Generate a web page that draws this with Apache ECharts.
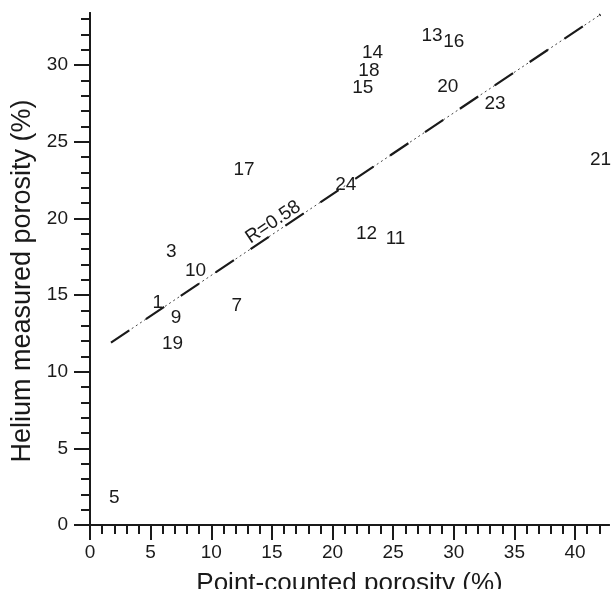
<!DOCTYPE html>
<html style="height: 100%">
<head>
   <meta charset="utf-8">
</head>
<style>
    body, html, #chart {
        margin: 0;
        width: 100%;
        height: 100%;
        background: #fff;
    }
</style>
<title>Helium vs point-counted porosity</title>
<script src="https://cdn.jsdelivr.net/npm/echarts@6/dist/echarts.min.js"></script>
<body>
   <div id="chart"></div>
   <script type="text/javascript">
    // sample numbers and their two porosity values (%)
    var sampleIds      = ['5', '19', '9', '1', '3', '10', '7', '17', '24', '12', '11', '14', '18', '15', '13', '16', '20', '23', '21'];
    var pointCounted   = [2.0, 6.8, 7.1, 5.6, 6.7, 8.7, 12.1, 12.7, 21.1, 22.8, 25.2, 23.3, 23.0, 22.5, 28.2, 30.0, 29.5, 33.4, 42.1];
    var heliumMeasured = [1.8, 11.8, 13.5, 14.5, 17.8, 16.6, 14.3, 23.2, 22.2, 19.0, 18.7, 30.8, 29.6, 28.5, 31.9, 31.5, 28.6, 27.5, 23.8];

    // regression line ends and its label
    var fitX = [1.73, 42.1];
    var fitY = [11.9, 33.3];
    var fitLabel = 'R=0.58';
    var fitLabelAt = [15.1, 19.75];

    // tick values
    var xMajor = [0, 5, 10, 15, 20, 25, 30, 35, 40];
    var xMinor = [0,1,2,3,4,5,6,7,8,9,10,11,12,13,14,15,16,17,18,19,20,21,22,23,24,25,26,27,28,29,30,31,32,33,34,35,36,37,38,39,40,41,42];
    var yMajor = [0, 5, 10, 15, 20, 25, 30];
    var yMinor = [0,1,2,3,4,5,6,7,8,9,10,11,12,13,14,15,16,17,18,19,20,21,22,23,24,25,26,27,28,29,30,31,32,33];

    var font = "'Liberation Sans', Arial, sans-serif";
    var ink = '#1a1a1a';

    var points = sampleIds.map(function (id, i) {
        return { name: id, value: [pointCounted[i], heliumMeasured[i]] };
    });
    var fitData = fitX.map(function (x, i) { return [x, fitY[i]]; });

    function axis(extra) {
        var base = {
            type: 'value',
            min: 0,
            splitLine: { show: false },
            axisLine: { show: true, lineStyle: { color: ink, width: 2 } },
            axisTick: { show: true, lineStyle: { color: ink, width: 2 } },
            axisLabel: { show: false }
        };
        return Object.assign(base, extra);
    }

    function textMarks(rotate) {
        return {
            symbolSize: 1,
            itemStyle: { color: 'transparent', opacity: 1 },
            label: {
                show: true,
                position: 'inside',
                formatter: '{b}',
                rotate: rotate,
                opacity: 1,
                textBorderWidth: 0,
                fontFamily: font,
                fontSize: 19,
                color: ink
            }
        };
    }

    var chart = echarts.init(document.getElementById('chart'));
    var option = {
        animation: false,
        grid: { left: 90, right: 2, top: 13, bottom: 64, containLabel: false, outerBoundsMode: 'none' },
        xAxis: [
            axis({
                position: 'bottom', max: 42.8,
                name: 'Point-counted porosity (%)', nameLocation: 'middle', nameGap: 46,
                nameTextStyle: { fontFamily: font, fontSize: 26, color: ink },
                axisTick: { show: true, length: 15, customValues: xMajor, lineStyle: { color: ink, width: 2 } },
                axisLabel: { show: true, customValues: xMajor, margin: 18, fontFamily: font, fontSize: 19, color: ink }
            }),
            axis({
                position: 'bottom', max: 42.8,
                axisTick: { show: true, length: 9, customValues: xMinor, lineStyle: { color: ink, width: 2 } }
            })
        ],
        yAxis: [
            axis({
                position: 'left', max: 33.4,
                name: 'Helium measured porosity (%)', nameLocation: 'middle', nameGap: 46,
                nameTextStyle: { fontFamily: font, fontSize: 27, color: ink, padding: [0, 24, 0, 0] },
                axisTick: { show: true, length: 16, customValues: yMajor, lineStyle: { color: ink, width: 2 } },
                axisLabel: { show: true, customValues: yMajor, margin: 22, fontFamily: font, fontSize: 19, color: ink }
            }),
            axis({
                position: 'left', max: 33.4,
                axisTick: { show: true, length: 9, customValues: yMinor, lineStyle: { color: ink, width: 2 } }
            })
        ],
        series: [
            {
                type: 'line',
                data: fitData,
                symbol: 'none',
                silent: true,
                lineStyle: { color: '#444', width: 1, type: [2, 3] }
            },
            {
                type: 'line',
                data: fitData,
                symbol: 'none',
                silent: true,
                lineStyle: { color: ink, width: 2.2, type: [22, 20] }
            },
            Object.assign({ type: 'scatter', data: points }, textMarks(0)),
            Object.assign({ type: 'scatter', data: [{ name: fitLabel, value: fitLabelAt }] }, textMarks(34))
        ]
    };
    chart.setOption(option);
   </script>
</body>
</html>
